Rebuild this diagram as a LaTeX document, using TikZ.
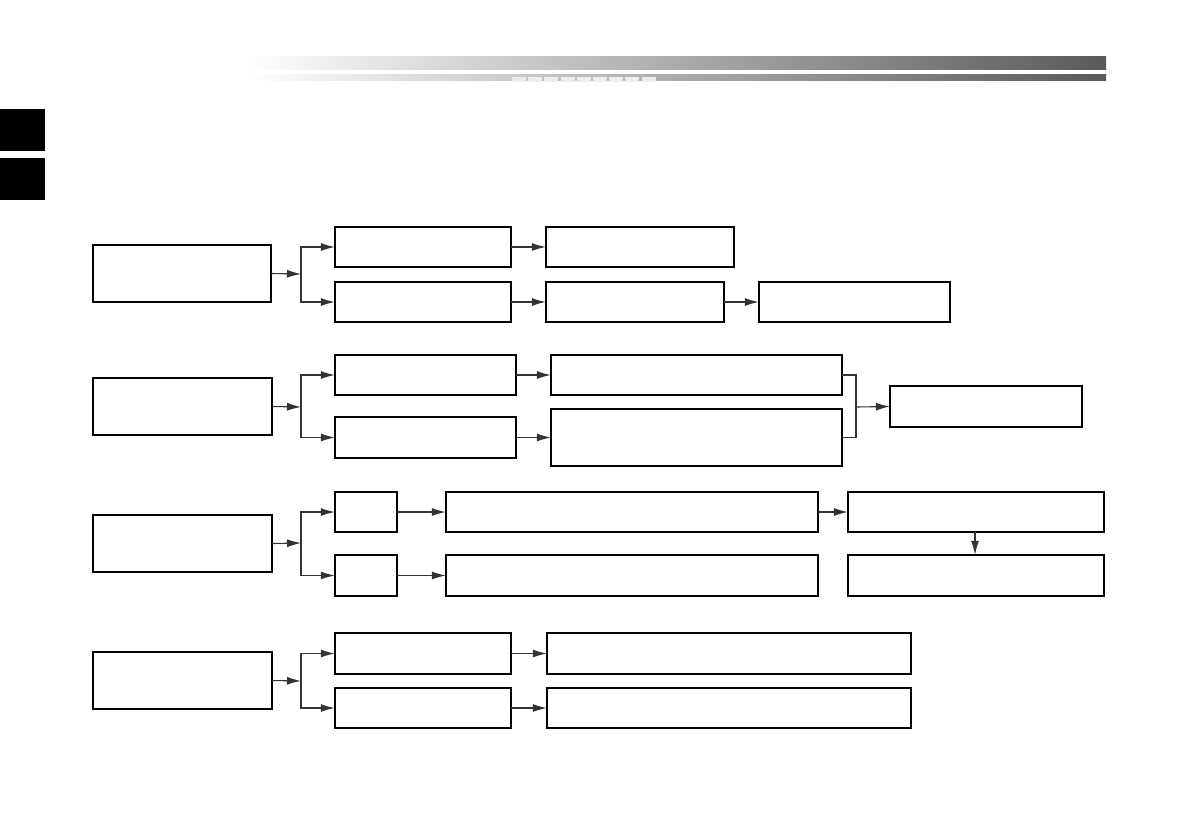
\documentclass[tikz,border=0pt]{standalone}
\usetikzlibrary{arrows.meta}
\begin{document}
\begin{tikzpicture}[x=1pt,y=-1pt,
  box/.style={draw=black,line width=1.3pt},
  conn/.style={draw=black!80,line width=1.1pt},
  arr/.style={conn,-{Latex[length=14pt,width=8pt]}}]
\useasboundingbox (0,0) rectangle (1191,839);
% header bars
\shade[left color=white,right color=black!30] (245,56) rectangle (640,69);
\shade[left color=black!30,right color=black!65] (640,56) rectangle (1106,69);
\shade[left color=white,right color=black!30] (245,74) rectangle (640,80);
\shade[left color=black!30,right color=black!65] (640,74) rectangle (1106,80);
\foreach \i in {0,...,8} {\fill[black!7] (512+16.2*\i,77) rectangle (526+16.2*\i,82);}
% side tabs
\fill[black] (0,109) rectangle (45,151);
\fill[black] (0,158) rectangle (45,200);
% boxes as nodes
\newcommand{\bx}[5]{\path[box] (#2,#3) rectangle (#4,#5); \node[inner sep=0,minimum width=#4pt-#2pt,minimum height=#5pt-#3pt] (#1) at ({(#2+#4)/2},{(#3+#5)/2}) {};}
% Row 1
\bx{A1}{93}{245}{271}{302}
\bx{B1a}{335}{227}{511}{267}
\bx{C1a}{546}{227}{734}{267}
\bx{B1b}{335}{282}{511}{322}
\bx{C1b}{546}{282}{724}{322}
\bx{D1b}{759}{282}{950}{322}
% Row 2
\bx{A2}{93}{378}{272}{435}
\bx{B2a}{335}{355}{516}{395}
\bx{C2a}{551}{355}{842}{395}
\bx{B2b}{335}{417}{516}{458}
\bx{C2b}{551}{409}{842}{466}
\bx{D2}{890}{386}{1082}{427}
% Row 3
\bx{A3}{93}{515}{272}{572}
\bx{B3a}{335}{492}{397}{532}
\bx{B3b}{335}{555}{397}{596}
\bx{C3a}{446}{492}{818}{532}
\bx{C3b}{446}{555}{818}{596}
\bx{D3a}{848}{492}{1104}{532}
\bx{D3b}{848}{555}{1104}{596}
% Row 4
\bx{A4}{93}{652}{272}{709}
\bx{B4a}{335}{633}{511}{674}
\bx{C4a}{547}{633}{911}{674}
\bx{B4b}{335}{688}{511}{728}
\bx{C4b}{547}{688}{911}{728}
% branch coordinates
\coordinate (j1) at (301,274);
\coordinate (j2) at (301,407);
\coordinate (j3) at (301,543);
\coordinate (j4) at (301,681);
\coordinate (k2) at (856,407);
% Row 1 connectors
\draw[arr] (A1.east) -- (j1);
\draw[arr] (j1) |- (B1a.west);
\draw[arr] (j1) |- (B1b.west);
\draw[arr] (B1a) -- (C1a);
\draw[arr] (B1b) -- (C1b);
\draw[arr] (C1b) -- (D1b);
% Row 2
\draw[arr] (A2.east) -- (j2);
\draw[arr] (j2) |- (B2a.west);
\draw[arr] (j2) |- (B2b.west);
\draw[arr] (B2a) -- (C2a);
\draw[arr] (B2b.east) -- (B2b.east -| C2b.west);
\draw[conn] (C2a.east) -| (k2);
\draw[conn] (B2b.east -| C2b.east) -| (k2);
\draw[arr] (k2) -- (D2.west);
% Row 3
\draw[arr] (A3.east) -- (j3);
\draw[arr] (j3) |- (B3a.west);
\draw[arr] (j3) |- (B3b.west);
\draw[arr] (B3a) -- (C3a);
\draw[arr] (B3b) -- (C3b);
\draw[arr] (C3a) -- (D3a);
\draw[arr] (D3a.south -| 975,0) -- (D3b.north -| 975,0);
% Row 4
\draw[arr] (A4.east) -- (j4);
\draw[arr] (j4) |- (B4a.west);
\draw[arr] (j4) |- (B4b.west);
\draw[arr] (B4a) -- (C4a);
\draw[arr] (B4b) -- (C4b);
\end{tikzpicture}
\end{document}
